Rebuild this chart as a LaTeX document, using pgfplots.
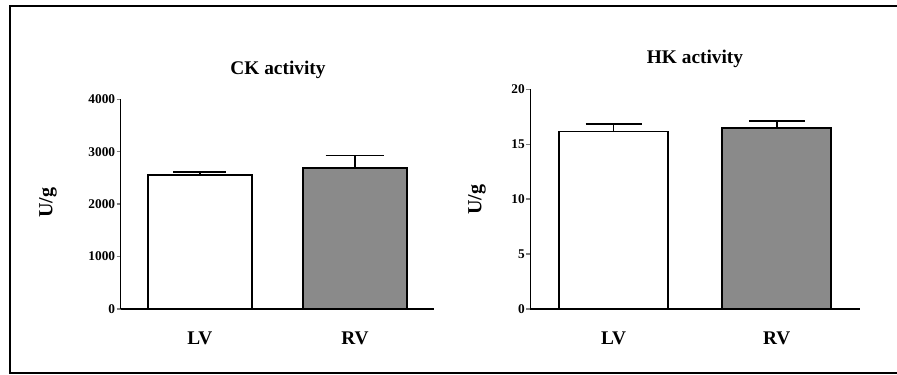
\documentclass[border=0pt]{standalone}
\usepackage{pgfplots}
\pgfplotsset{compat=1.18}
\usepackage{fontspec}
\setmainfont{Liberation Serif}
\definecolor{bargray}{RGB}{138,138,138}
\begin{document}
\begin{tikzpicture}
\useasboundingbox (0pt,0pt) rectangle (672.75pt,281.25pt);
\fill[white] (0pt,0pt) rectangle (672.75pt,281.25pt);
\draw[line width=2.2pt] (675pt,276.75pt) -- (7.5pt,276.75pt) -- (7.5pt,1.5pt) -- (675pt,1.5pt);
\pgfplotsset{
  panel/.style={
    scale only axis,
    anchor=south west,
    axis lines=left,
    axis line style={-, line width=1.2pt},
    xmin=-0.51, xmax=1.51,
    ymin=0,
    xtick={0,1},
    xticklabels={LV,RV},
    x tick style={draw=none},
    xticklabel style={anchor=base, yshift=-23.5pt, font=\bfseries\fontsize{14.5}{15}\selectfont},
    yticklabel style={font=\bfseries\fontsize{10}{11}\selectfont, inner sep=1pt},
    /pgf/number format/assume math mode=true,
    /pgf/number format/1000 sep={},
    tick align=outside,
    y tick style={line width=1pt},
    major tick length=3pt,
    ybar, bar shift=0pt,
    clip=false,
  }
}
\begin{axis}[panel, at={(90.525pt,49.5pt)}, width=235pt, height=157.3pt,
  ymax=4000, ytick={0,1000,2000,3000,4000}, bar width=78pt]
\addplot[draw=black, line width=1.2pt, fill=white,
  error bars/.cd, y dir=plus, y explicit,
  error bar style={line width=1.2pt},
  error mark options={line width=1.2pt, mark size=20pt, rotate=90}]
  coordinates {(0,2560) +- (0,50)};
\addplot[draw=black, line width=1.2pt, fill=bargray,
  error bars/.cd, y dir=plus, y explicit,
  error bar style={line width=1.2pt},
  error mark options={line width=1.2pt, mark size=22pt, rotate=90}]
  coordinates {(1,2690) +- (0,240)};
\end{axis}
\begin{axis}[panel, at={(397.725pt,49.5pt)}, width=247.3pt, height=164.8pt,
  ymax=20, ytick={0,5,10,15,20}, bar width=81.75pt]
\addplot[draw=black, line width=1.2pt, fill=white,
  error bars/.cd, y dir=plus, y explicit,
  error bar style={line width=1.2pt},
  error mark options={line width=1.2pt, mark size=21pt, rotate=90}]
  coordinates {(0,16.15) +- (0,0.68)};
\addplot[draw=black, line width=1.2pt, fill=bargray,
  error bars/.cd, y dir=plus, y explicit,
  error bar style={line width=1.2pt},
  error mark options={line width=1.2pt, mark size=21pt, rotate=90}]
  coordinates {(1,16.45) +- (0,0.68)};
\end{axis}
\node[anchor=base, font=\bfseries\fontsize{14.5}{15}\selectfont] at (208.5pt,225.525pt) {CK activity};
\node[anchor=base, font=\bfseries\fontsize{14.5}{15}\selectfont] at (521.25pt,233.25pt) {HK activity};
\node[rotate=90, font=\bfseries\fontsize{15}{16}\selectfont] at (36pt,129.375pt) {U/g};
\node[rotate=90, font=\bfseries\fontsize{15}{16}\selectfont] at (357.75pt,131.25pt) {U/g};
\end{tikzpicture}
\end{document}
